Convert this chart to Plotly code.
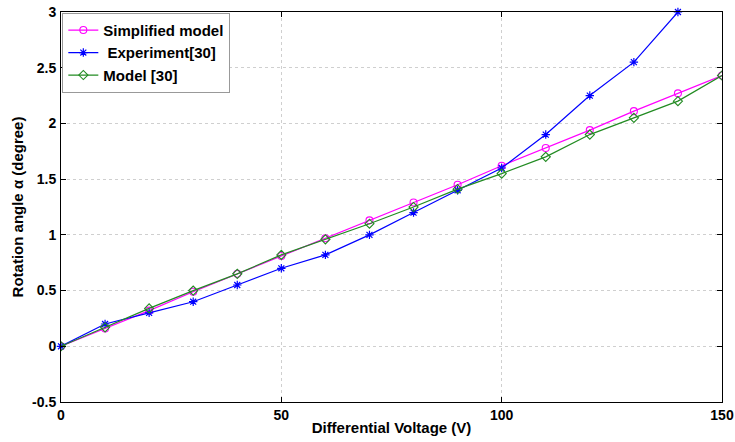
import plotly.graph_objects as go

voltage = [0, 10, 20, 30, 40, 50, 60, 70, 80, 90, 100, 110, 120, 130, 140, 150]
simplified = [0, 0.16, 0.32, 0.49, 0.65, 0.81, 0.97, 1.13, 1.29, 1.45, 1.62, 1.78, 1.94, 2.11, 2.27, 2.43]
voltage_exp = [0, 10, 20, 30, 40, 50, 60, 70, 80, 90, 100, 110, 120, 130, 140]
experiment = [0, 0.20, 0.30, 0.40, 0.55, 0.70, 0.82, 1.00, 1.20, 1.40, 1.60, 1.90, 2.25, 2.55, 3.00]
model30 = [0, 0.17, 0.34, 0.50, 0.65, 0.82, 0.96, 1.10, 1.25, 1.41, 1.55, 1.70, 1.90, 2.05, 2.20, 2.43]

x_ticks = [0, 50, 100, 150]
y_ticks = [-0.5, 0, 0.5, 1, 1.5, 2, 2.5, 3]

FONT = "Liberation Sans, Arial"

fig = go.Figure()
fig.add_trace(go.Scatter(x=voltage, y=simplified, mode="lines+markers", name="Simplified model",
                         line=dict(color="#FF00FF", width=1.2),
                         marker=dict(symbol="circle-open", size=7, color="#FF00FF", line=dict(width=1.1))))
fig.add_trace(go.Scatter(x=voltage_exp, y=experiment, mode="lines+markers", name=" Experiment[30]",
                         line=dict(color="#0000FF", width=1.2), cliponaxis=False,
                         marker=dict(symbol="asterisk-open", size=7, color="#0000FF", line=dict(width=1.2, color="#0000FF"))))
fig.add_trace(go.Scatter(x=voltage, y=model30, mode="lines+markers", name="Model [30]",
                         line=dict(color="#228B22", width=1.2),
                         marker=dict(symbol="diamond-open", size=7, color="#228B22", line=dict(width=1.1))))

axis_common = dict(showline=True, linecolor="black", linewidth=1, mirror="ticks", ticks="inside",
                   ticklen=5, tickcolor="black", showgrid=True, gridcolor="#CFCFCF", griddash="dot",
                   gridwidth=1, zeroline=False, automargin=False,
                   tickfont=dict(family=FONT, size=14, color="black", weight="bold"))

fig.update_xaxes(range=[0, 150], tickvals=x_ticks, ticktext=[str(v) for v in x_ticks],
                 ticklabelstandoff=0,
                 title=dict(text="Differential Voltage (V)", standoff=0,
                            font=dict(family=FONT, size=15, color="black", weight="bold")),
                 **axis_common)
fig.update_yaxes(range=[-0.5, 3], tickvals=y_ticks, ticktext=[f"{v:g}" for v in y_ticks],
                 ticklabelstandoff=1,
                 title=dict(text="Rotation angle α (degree)", standoff=4,
                            font=dict(family=FONT, size=15, color="black", weight="bold")),
                 **axis_common)

fig.update_layout(
    width=735, height=442,
    margin=dict(l=61, r=13, t=12, b=40, autoexpand=False),
    paper_bgcolor="white", plot_bgcolor="white",
    legend=dict(x=0.002, y=0.998, xanchor="left", yanchor="top", bgcolor="white",
                bordercolor="#999999", borderwidth=1,
                font=dict(family=FONT, size=15, color="black", weight="bold"),
                tracegroupgap=0, itemwidth=30),
    showlegend=True,
)

fig.write_html("out.html", config={"displayModeBar": False},
               post_script="document.body.style.margin='0';document.body.style.padding='0';document.body.style.overflow='hidden';")
